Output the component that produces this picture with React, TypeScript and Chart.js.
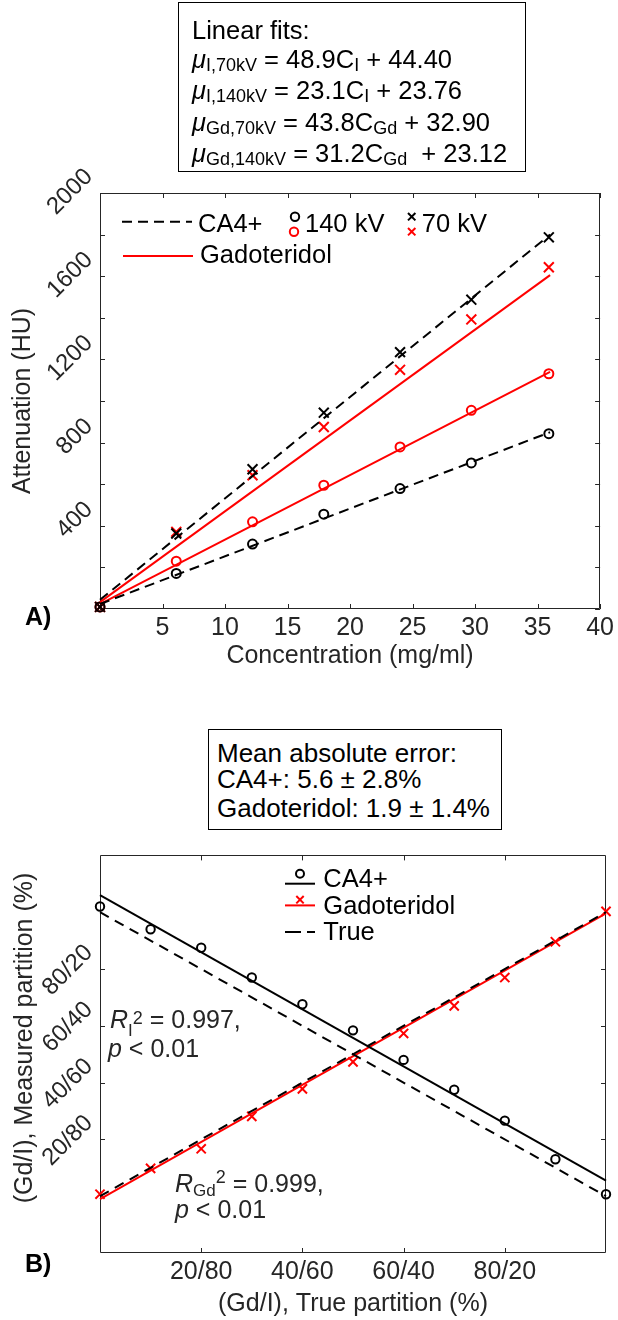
import React, { useEffect, useRef } from 'react';
import { Chart, registerables } from 'chart.js';

Chart.register(...registerables);

const FONT = '"Liberation Sans", Arial, Helvetica, sans-serif';
const AXIS = '#262626';
const RED = '#ff0000';
const BLACK = '#000000';

// ---------- Panel A: attenuation vs concentration ----------
const concentration = [0, 6.1, 12.2, 17.9, 24.0, 29.7, 35.9];
const ca4At140kV = [10, 171, 312, 456, 579, 702, 843];
const ca4At70kV = [10, 363, 672, 944, 1235, 1487, 1787];
const gdAt140kV = [10, 230, 419, 595, 779, 955, 1131];
const gdAt70kV = [10, 371, 643, 875, 1150, 1392, 1643];
const fitConcentration = [0, 36];
const ca4Fit140kV = [24, 850];
const ca4Fit70kV = [44, 1800];
const gdFit140kV = [23, 1140];
const gdFit70kV = [33, 1605];
const concentrationTicks = [5, 10, 15, 20, 25, 30, 35, 40];
const concentrationTickLabels = ['5', '10', '15', '20', '25', '30', '35', '40'];
const attenuationTicks = [0, 200, 400, 600, 800, 1000, 1200, 1400, 1600, 1800, 2000];
const attenuationTickLabels = ['', '', '400', '', '800', '', '1200', '', '1600', '', '2000'];

// ---------- Panel B: measured vs true partition ----------
const truePartition = [0, 10, 20, 30, 40, 50, 60, 70, 80, 90, 100];
const ca4Measured = [102, 94, 87.5, 77, 67.6, 58.4, 48, 37.5, 26.6, 13, 0.7];
const gdMeasured = [0.7, 9.8, 16.7, 28.1, 37.8, 47.3, 57.3, 67.0, 77.0, 89.6, 100.3];
const fitPartition = [0, 100];
const ca4FitLine = [106, 5.5];
const gdFitLine = [-1, 99.6];
const ca4TrueLine = [100, 0];
const gdTrueLine = [0, 100];
const partitionTicks = [20, 40, 60, 80];
const partitionTickLabels = ['20/80', '40/60', '60/40', '80/20'];

const pts = (xs: number[], ys: number[]) => xs.map((x, i) => ({ x, y: ys[i] }));

const markers = (xs: number[], ys: number[], color: string, style: string, radius: number) => ({
  data: pts(xs, ys),
  showLine: false,
  pointStyle: style,
  pointRadius: radius,
  pointHoverRadius: radius,
  pointBorderColor: color,
  pointBackgroundColor: 'rgba(0,0,0,0)',
  pointBorderWidth: 2,
  clip: false,
});

const fitLine = (xs: number[], ys: number[], color: string, dash: number[]) => ({
  data: pts(xs, ys),
  showLine: true,
  borderColor: color,
  borderWidth: 2,
  borderDash: dash,
  pointRadius: 0,
  pointHoverRadius: 0,
  fill: false,
  tension: 0,
  clip: false,
});

const makeScale = (
  min: number,
  max: number,
  tickValues: number[],
  tickLabels: string[],
  title: string | null,
  titlePadding: any,
  extra: any,
  tickSize: number,
  fitSize: (s: any) => void,
) => ({
  type: 'linear',
  min,
  max,
  grid: { display: false, drawTicks: false },
  border: { display: false },
  afterBuildTicks: (s: any) => {
    s.ticks = tickValues.map((v) => ({ value: v }));
  },
  afterFit: fitSize,
  ticks: {
    autoSkip: false,
    color: AXIS,
    font: { family: FONT, size: tickSize },
    callback: (v: any) => {
      const i = tickValues.indexOf(Number(v));
      return i >= 0 ? tickLabels[i] : '';
    },
    ...extra,
  },
  title: title
    ? { display: true, text: title, color: AXIS, font: { family: FONT, size: 25 }, padding: titlePadding }
    : { display: false },
});

const framePlugin = {
  id: 'frame',
  beforeDatasetsDraw(chart: any) {
    const { ctx, chartArea } = chart;
    const { left, right, top, bottom } = chartArea;
    const x = chart.scales.x;
    const y = chart.scales.y;
    const tl = 5;
    ctx.save();
    ctx.strokeStyle = AXIS;
    ctx.lineWidth = 1;
    ctx.beginPath();
    ctx.rect(Math.round(left) + 0.5, Math.round(top) + 0.5, Math.round(right - left) - 1, Math.round(bottom - top) - 1);
    ctx.stroke();
    ctx.beginPath();
    x.ticks.forEach((t: any) => {
      const px = Math.round(x.getPixelForValue(t.value)) + 0.5;
      ctx.moveTo(px, bottom);
      ctx.lineTo(px, bottom - tl);
      ctx.moveTo(px, top);
      ctx.lineTo(px, top + tl);
    });
    y.ticks.forEach((t: any) => {
      const py = Math.round(y.getPixelForValue(t.value)) + 0.5;
      ctx.moveTo(left, py);
      ctx.lineTo(left + tl, py);
      ctx.moveTo(right, py);
      ctx.lineTo(right - tl, py);
    });
    ctx.stroke();
    ctx.restore();
  },
};

function drawCircle(ctx: any, cx: number, cy: number, r: number, color: string) {
  ctx.save();
  ctx.setLineDash([]);
  ctx.strokeStyle = color;
  ctx.lineWidth = 2;
  ctx.beginPath();
  ctx.arc(cx, cy, r, 0, Math.PI * 2);
  ctx.stroke();
  ctx.restore();
}

function drawX(ctx: any, cx: number, cy: number, a: number, color: string) {
  ctx.save();
  ctx.setLineDash([]);
  ctx.strokeStyle = color;
  ctx.lineWidth = 2;
  ctx.beginPath();
  ctx.moveTo(cx - a, cy - a);
  ctx.lineTo(cx + a, cy + a);
  ctx.moveTo(cx - a, cy + a);
  ctx.lineTo(cx + a, cy - a);
  ctx.stroke();
  ctx.restore();
}

function drawSeg(ctx: any, x1: number, x2: number, y: number, color: string, dash: number[]) {
  ctx.save();
  ctx.strokeStyle = color;
  ctx.lineWidth = 2;
  ctx.setLineDash(dash);
  ctx.beginPath();
  ctx.moveTo(x1, y);
  ctx.lineTo(x2, y);
  ctx.stroke();
  ctx.restore();
}

const legendAPlugin = {
  id: 'legendA',
  afterDraw(chart: any) {
    const { ctx, chartArea } = chart;
    const L = chartArea.left;
    const T = chartArea.top;
    ctx.save();
    ctx.font = `25.5px ${FONT}`;
    ctx.fillStyle = BLACK;
    ctx.textBaseline = 'alphabetic';
    ctx.textAlign = 'left';
    drawSeg(ctx, L + 22, L + 92, T + 28.7, BLACK, [10, 6]);
    ctx.fillText('CA4+', L + 98, T + 38.7);
    drawCircle(ctx, L + 195, T + 23.7, 4.2, BLACK);
    drawCircle(ctx, L + 194, T + 38.7, 4.2, RED);
    ctx.fillText('140 kV', L + 205, T + 38.7);
    drawX(ctx, L + 311.7, T + 23.7, 3.7, BLACK);
    drawX(ctx, L + 311.7, T + 38.7, 3.7, RED);
    ctx.fillText('70 kV', L + 321.7, T + 38.7);
    drawSeg(ctx, L + 23, L + 93, T + 63, RED, []);
    ctx.fillText('Gadoteridol', L + 100, T + 70.3);
    ctx.restore();
  },
};

const legendBPlugin = {
  id: 'legendB',
  afterDraw(chart: any) {
    const { ctx, chartArea } = chart;
    const L = chartArea.left;
    const T = chartArea.top;
    ctx.save();
    ctx.font = `25.5px ${FONT}`;
    ctx.fillStyle = BLACK;
    ctx.textBaseline = 'alphabetic';
    ctx.textAlign = 'left';
    drawCircle(ctx, L + 200, T + 18.3, 4, BLACK);
    drawSeg(ctx, L + 185, L + 215, T + 28.3, BLACK, []);
    ctx.fillText('CA4+', L + 223.3, T + 31.7);
    drawX(ctx, L + 200, T + 44.3, 3.7, RED);
    drawSeg(ctx, L + 185, L + 215, T + 50, RED, []);
    ctx.fillText('Gadoteridol', L + 223.3, T + 58.3);
    drawSeg(ctx, L + 185, L + 215, T + 76.7, BLACK, [16, 6]);
    ctx.fillText('True', L + 223.3, T + 85);
    ctx.restore();
  },
};

const Sub = ({ children, shift = -3, size = 18 }: any) => (
  <span style={{ fontSize: size, verticalAlign: shift, lineHeight: 0 }}>{children}</span>
);

const Line = ({ top, left, children, color = '#000', bold = false, size = 25.5 }: any) => (
  <div
    style={{
      position: 'absolute',
      left,
      top,
      fontSize: size,
      lineHeight: '25px',
      whiteSpace: 'nowrap',
      color,
      fontWeight: bold ? 'bold' : 'normal',
    }}
  >
    {children}
  </div>
);

export default function App() {
  const refA = useRef<HTMLCanvasElement>(null);
  const refB = useRef<HTMLCanvasElement>(null);

  useEffect(() => {
    const chartA = new Chart(refA.current as HTMLCanvasElement, {
      type: 'scatter',
      data: {
        datasets: [
          fitLine(fitConcentration, ca4Fit70kV, BLACK, [10, 6]),
          fitLine(fitConcentration, ca4Fit140kV, BLACK, [10, 6]),
          fitLine(fitConcentration, gdFit70kV, RED, []),
          fitLine(fitConcentration, gdFit140kV, RED, []),
          markers(concentration, ca4At140kV, BLACK, 'circle', 4.5),
          markers(concentration, gdAt140kV, RED, 'circle', 4.5),
          markers(concentration, ca4At70kV, BLACK, 'crossRot', 7),
          markers(concentration, gdAt70kV, RED, 'crossRot', 7),
        ] as any,
      },
      options: {
        responsive: false,
        maintainAspectRatio: false,
        animation: false,
        events: [],
        layout: { padding: { top: 43, right: 13, left: 0, bottom: 0 } },
        plugins: { legend: { display: false }, tooltip: { enabled: false } },
        scales: {
          x: makeScale(0, 40, concentrationTicks, concentrationTickLabels, 'Concentration (mg/ml)',
            { top: 0, bottom: 19 }, { maxRotation: 0, minRotation: 0, padding: 4 }, 25,
            (s: any) => { s.height = 81; }),
          y: makeScale(0, 2000, attenuationTicks, attenuationTickLabels, 'Attenuation (HU)',
            { top: 8, bottom: 0 }, { minRotation: 45, maxRotation: 45, padding: 11, labelOffset: -20 }, 24,
            (s: any) => { s.width = 100; }),
        } as any,
      },
      plugins: [framePlugin, legendAPlugin],
    } as any);

    const chartB = new Chart(refB.current as HTMLCanvasElement, {
      type: 'scatter',
      data: {
        datasets: [
          fitLine(fitPartition, ca4TrueLine, BLACK, [10, 7]),
          fitLine(fitPartition, gdTrueLine, BLACK, [10, 7]),
          fitLine(fitPartition, ca4FitLine, BLACK, []),
          fitLine(fitPartition, gdFitLine, RED, []),
          markers(truePartition, ca4Measured, BLACK, 'circle', 4.2),
          markers(truePartition, gdMeasured, RED, 'crossRot', 6.5),
        ] as any,
      },
      options: {
        responsive: false,
        maintainAspectRatio: false,
        animation: false,
        events: [],
        layout: { padding: { top: 15, right: 12, left: 0, bottom: 0 } },
        plugins: { legend: { display: false }, tooltip: { enabled: false } },
        scales: {
          x: makeScale(0, 100, partitionTicks, partitionTickLabels, '(Gd/I), True partition (%)',
            { top: 0, bottom: 1 }, { maxRotation: 0, minRotation: 0, padding: 4 }, 25,
            (s: any) => { s.height = 67; }),
          y: makeScale(-20, 120, partitionTicks, partitionTickLabels, null,
            { top: 8, bottom: 0 }, { minRotation: 45, maxRotation: 45, padding: 11, labelOffset: -20 }, 24,
            (s: any) => { s.width = 100; }),
        } as any,
      },
      plugins: [framePlugin, legendBPlugin],
    } as any);

    return () => {
      chartA.destroy();
      chartB.destroy();
    };
  }, []);

  return (
    <div
      style={{
        position: 'absolute',
        left: 0,
        top: 0,
        width: 618,
        height: 1320,
        overflow: 'hidden',
        background: '#ffffff',
        fontFamily: FONT,
      }}
    >
      <canvas ref={refA} width={618} height={540} style={{ position: 'absolute', left: 0, top: 150, display: 'block' }} />
      <canvas ref={refB} width={618} height={490} style={{ position: 'absolute', left: 0, top: 830, display: 'block' }} />

      {/* Linear fits box */}
      <div style={{ position: 'absolute', left: 178, top: 2, width: 348, height: 170, border: '1px solid #000', boxSizing: 'border-box' }} />
      <Line left={192} top={18.1}>Linear fits:</Line>
      <Line left={192} top={47.1}><i>μ</i><Sub>I,70kV</Sub> = 48.9C<Sub>I</Sub> + 44.40</Line>
      <Line left={192} top={78.1}><i>μ</i><Sub>I,140kV</Sub> = 23.1C<Sub>I</Sub> + 23.76</Line>
      <Line left={192} top={109.5}><i>μ</i><Sub>Gd,70kV</Sub> = 43.8C<Sub>Gd</Sub> + 32.90</Line>
      <Line left={192} top={141.1}><i>μ</i><Sub>Gd,140kV</Sub> = 31.2C<Sub>Gd</Sub>{'\u00a0'} + 23.12</Line>

      <Line left={25} top={603.8} bold size={25}>A)</Line>

      {/* Mean absolute error box */}
      <div style={{ position: 'absolute', left: 208, top: 729, width: 294, height: 101, border: '1px solid #000', boxSizing: 'border-box' }} />
      <Line left={217} top={740.5} size={26}>Mean absolute error:</Line>
      <Line left={217} top={767.1} size={26}>CA4+: 5.6 ± 2.8%</Line>
      <Line left={217} top={795.5} size={26}>Gadoteridol: 1.9 ± 1.4%</Line>

      {/* Panel B y-axis title */}
      <div
        style={{
          position: 'absolute',
          left: 22.5,
          top: 1037.5,
          transform: 'translate(-50%, -50%) rotate(-90deg)',
          fontSize: 25,
          lineHeight: '25px',
          whiteSpace: 'nowrap',
          color: AXIS,
        }}
      >
        (Gd/I), Measured partition (%)
      </div>

      {/* R² annotations */}
      <Line left={110} top={1006.8} color={AXIS} size={25}>
        <i>R</i><Sub shift={-8} size={17}>I</Sub><Sub shift={4} size={18}>2</Sub> = 0.997,
      </Line>
      <Line left={108} top={1035.8} color={AXIS} size={25}><i>p</i> &lt; 0.01</Line>
      <Line left={175} top={1170.8} color={AXIS} size={25}>
        <i>R</i><Sub shift={-4} size={17}>Gd</Sub><Sub shift={9} size={18}>2</Sub> = 0.999,
      </Line>
      <Line left={175} top={1196.8} color={AXIS} size={25}><i>p</i> &lt; 0.01</Line>

      <Line left={25} top={1250.8} bold size={25}>B)</Line>
    </div>
  );
}
